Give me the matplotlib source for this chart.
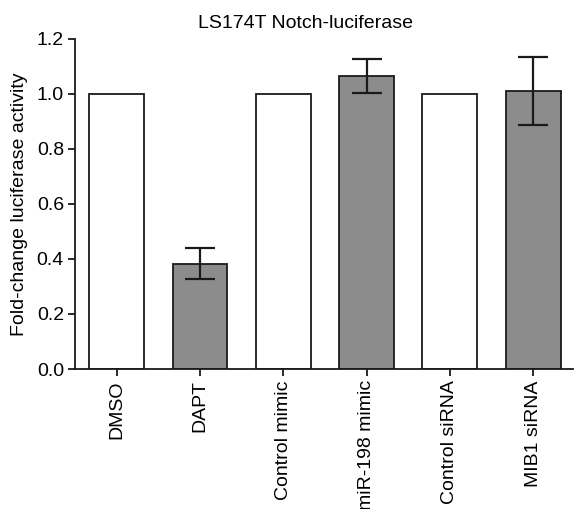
import numpy as np
import matplotlib
matplotlib.use("Agg")
import matplotlib.pyplot as plt

plt.rcParams['font.family'] = ['Liberation Sans', 'DejaVu Sans']

# data
groups = ["DMSO", "DAPT", "Control mimic", "miR-198 mimic", "Control siRNA", "MIB1 siRNA"]
fold_change = [1.0, 0.383, 1.0, 1.065, 1.0, 1.01]
err = [0.0, 0.057, 0.0, 0.063, 0.0, 0.125]
treated = [False, True, False, True, False, True]

fig = plt.figure(figsize=(5.74, 5.09), dpi=100)
ax = fig.add_axes([0.1307, 0.275, 0.868, 0.649])

x = np.arange(len(groups))
colors = ["#8c8c8c" if t else "white" for t in treated]
ax.bar(x, fold_change, width=0.66, color=colors, edgecolor="#1a1a1a", linewidth=1.3, zorder=2)

# error bars only on the treated bars
idx = [i for i in range(len(groups)) if treated[i]]
ax.errorbar(x[idx], [fold_change[i] for i in idx], yerr=[err[i] for i in idx],
            fmt="none", ecolor="#1a1a1a", elinewidth=1.6, capsize=10.5, capthick=1.6, zorder=3)

ax.set_xlim(-0.5, 5.48)
ax.set_ylim(0, 1.2)
ax.set_yticks([0.0, 0.2, 0.4, 0.6, 0.8, 1.0, 1.2])
ax.set_yticklabels(["0.0", "0.2", "0.4", "0.6", "0.8", "1.0", "1.2"], fontsize=14)
ax.set_xticks(x)
ax.set_xticklabels(groups, rotation=90, fontsize=14)

for s in ["top", "right"]:
    ax.spines[s].set_visible(False)
for s in ["left", "bottom"]:
    ax.spines[s].set_linewidth(1.3)
    ax.spines[s].set_color("#1a1a1a")
ax.tick_params(axis="both", direction="out", length=5, width=1.3, color="#1a1a1a", pad=3)

ax.set_ylabel("Fold-change luciferase activity", fontsize=14, labelpad=6)
fig.text(0.532, 1 - 28 / 509, "LS174T Notch-luciferase", fontsize=14,
         ha="center", va="baseline")

fig.savefig("out.png", dpi=100)
